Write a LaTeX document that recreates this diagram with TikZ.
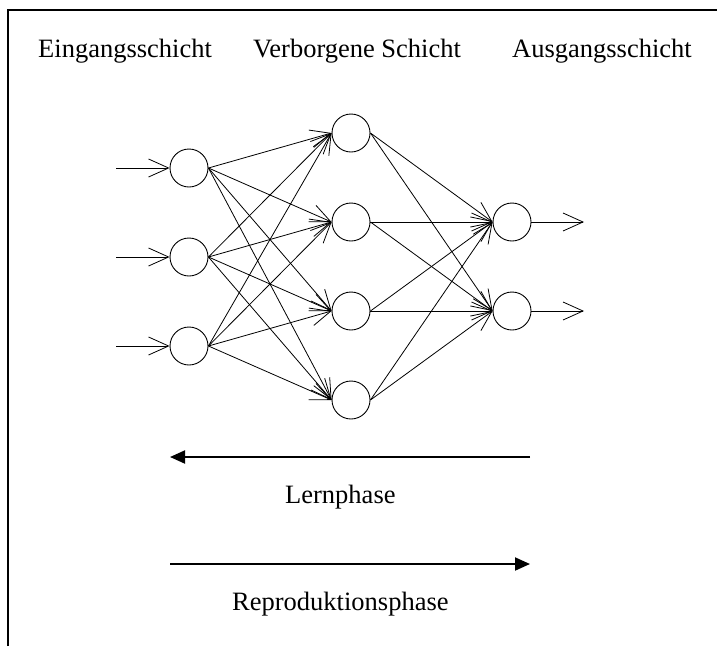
\documentclass[tikz,border=0pt]{standalone}
\usepackage{fontspec}
\setmainfont{Liberation Serif}
\usetikzlibrary{arrows.meta}
\begin{document}
\begin{tikzpicture}[x=1pt,y=-1pt,
  neuron/.style={circle,draw,line width=0.9pt,minimum size=38pt,inner sep=0pt},
  conn/.style={line width=0.8pt,-{Straight Barb[length=20pt,width=18pt,line width=0.8pt]}},
  phase/.style={line width=2pt,-{Triangle[length=15pt,width=13pt]}},
  lbl/.style={anchor=base west,inner sep=0pt,font=\fontsize{26.5}{30}\selectfont}]
\useasboundingbox (0,0) rectangle (717,646);
\draw[line width=2pt] (8,646) -- (8,10) -- (717,10);
\node[lbl] (t1) at (38,57) {Eingangsschicht};
\node[lbl] (t2) at (253,57) {Verborgene Schicht};
\node[lbl] (t3) at (512,57) {Ausgangsschicht};
% input layer
\node[neuron] (i1) at (189,168) {};
\node[neuron] (i2) at (189,257) {};
\node[neuron] (i3) at (189,346) {};
% hidden layer
\node[neuron] (h1) at (351,133) {};
\node[neuron] (h2) at (351,222) {};
\node[neuron] (h3) at (351,311) {};
\node[neuron] (h4) at (351,400) {};
% output layer
\node[neuron] (o1) at (512,222) {};
\node[neuron] (o2) at (512,311) {};
% free ends
\coordinate (s1) at (116,168);
\coordinate (s2) at (116,257);
\coordinate (s3) at (116,346);
\coordinate (e1) at (584,222);
\coordinate (e2) at (584,311);
\foreach \k in {1,2,3} \draw[conn] (s\k) -- (i\k.west);
\foreach \k in {1,2} \draw[conn] (o\k.east) -- (e\k);
\foreach \a in {1,2,3} \foreach \b in {1,2,3,4} \draw[conn] (i\a.east) -- (h\b.west);
\foreach \a in {1,2,3,4} \foreach \b in {1,2} \draw[conn] (h\a.east) -- (o\b.west);
% phases
\coordinate (l1) at (530,457);
\coordinate (l2) at (170,457);
\coordinate (r1) at (170,564);
\coordinate (r2) at (530,564);
\draw[phase] (l1) -- (l2);
\draw[phase] (r1) -- (r2);
\node[lbl] (lern) at (285,503) {Lernphase};
\node[lbl] (repro) at (232,610) {Reproduktionsphase};
\end{tikzpicture}
\end{document}
